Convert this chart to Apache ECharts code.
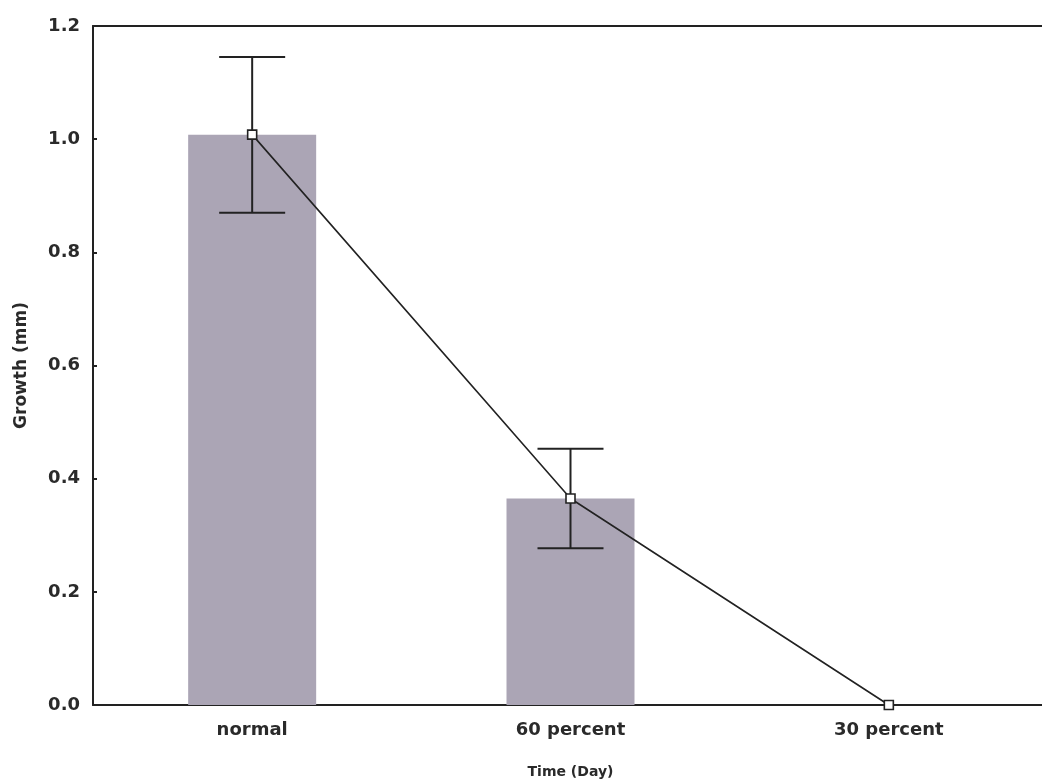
<!DOCTYPE html>
<html>
<head>
<meta charset="utf-8">
<script src="https://cdn.jsdelivr.net/npm/echarts@6/dist/echarts.min.js"></script>
<style>html,body{margin:0;padding:0;background:#fff;overflow:hidden;width:1042px;height:784px}#c{width:1048px;height:784px}</style>
</head>
<body>
<div id="c"></div>
<script>
const categories = ['normal', '60 percent', '30 percent'];
const means = [1.008, 0.365, 0.0];
const errLow = [0.870, 0.277, 0.0];
const errHigh = [1.145, 0.453, 0.0];
const yTicks = [0, 0.2, 0.4, 0.6, 0.8, 1.0, 1.2];

const chart = echarts.init(document.getElementById('c'));
const labelFont = { fontFamily: 'DejaVu Sans', fontWeight: 'bold', fontSize: 18, color: '#2a2a2a' };
const errData = categories.map((c, i) => [i, errLow[i], errHigh[i]]);

chart.setOption({
  animation: false,
  backgroundColor: '#fff',
  grid: { left: 93, top: 26, right: 0, bottom: 78, show: false },
  xAxis: [{
    type: 'category', data: categories, position: 'bottom',
    axisLine: { lineStyle: { color: '#222', width: 2 } },
    axisTick: { inside: true, length: 4, alignWithLabel: true, lineStyle: { color: '#222', width: 2 } },
    axisLabel: Object.assign({ margin: 16 }, labelFont),
    name: 'Time (Day)', nameLocation: 'middle', nameGap: 60,
    nameTextStyle: { fontFamily: 'DejaVu Sans', fontWeight: 'bold', fontSize: 14, color: '#2a2a2a' }
  }, {
    type: 'category', data: categories, position: 'top',
    axisLine: { lineStyle: { color: '#222', width: 2 } },
    axisTick: { inside: true, length: 4, alignWithLabel: true, lineStyle: { color: '#222', width: 2 } },
    axisLabel: { show: false }
  }],
  yAxis: {
    type: 'value', min: 0, max: 1.2, interval: 0.2,
    axisLine: { show: true, lineStyle: { color: '#222', width: 2 } },
    axisTick: { show: true, inside: true, length: 4, lineStyle: { color: '#222', width: 2 } },
    splitLine: { show: false },
    axisLabel: Object.assign({ margin: 13, formatter: v => v.toFixed(1) }, labelFont),
    name: 'Growth (mm)', nameLocation: 'middle', nameGap: 63, nameRotate: 90,
    nameTextStyle: { fontFamily: 'DejaVu Sans', fontWeight: 'bold', fontSize: 17, color: '#2a2a2a' }
  },
  series: [{
    type: 'bar', data: means, barWidth: 128,
    itemStyle: { color: '#aba5b5' }
  }, {
    type: 'line', data: means, symbol: 'rect', symbolSize: 9,
    lineStyle: { color: '#222', width: 1.6 },
    itemStyle: { color: '#fff', borderColor: '#222', borderWidth: 1.6 },
    z: 5
  }, {
    type: 'custom', data: errData, z: 4,
    renderItem: function (params, api) {
      const x = api.value(0);
      const lo = api.coord([x, api.value(1)]);
      const hi = api.coord([x, api.value(2)]);
      const hw = 33;
      const st = { stroke: '#222', lineWidth: 2, fill: 'none' };
      if (Math.abs(lo[1] - hi[1]) < 1) return null;
      return { type: 'group', children: [
        { type: 'line', shape: { x1: lo[0], y1: lo[1], x2: hi[0], y2: hi[1] }, style: st },
        { type: 'line', shape: { x1: lo[0] - hw, y1: lo[1], x2: lo[0] + hw, y2: lo[1] }, style: st },
        { type: 'line', shape: { x1: hi[0] - hw, y1: hi[1], x2: hi[0] + hw, y2: hi[1] }, style: st }
      ]};
    }
  }]
});
</script>
</body>
</html>
